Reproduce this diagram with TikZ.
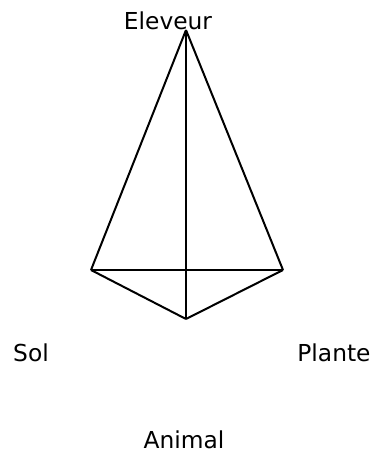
\documentclass[tikz,border=0pt]{standalone}
\usepackage{fontspec}
\setmainfont{DejaVu Sans}
\usetikzlibrary{positioning}
\tikzset{
    edge/.style={line width=1.5pt, draw=black},
    pole/.style={font=\fontsize{17.5}{20}\selectfont, inner sep=0pt}
}
\begin{document}
\begin{tikzpicture}[x=0.75pt, y=-0.75pt]
    \useasboundingbox (0,0) rectangle (374,454);
    % vertices of the pyramid
    \coordinate (top) at (186,30);
    \coordinate (left) at (91,270);
    \coordinate (right) at (283,270);
    \coordinate (front) at (186,319);

    % labels
    \node[pole] (eleveur) at (168,21) {Eleveur};
    \node[pole] (sol) at (31,353) {Sol};
    \node[pole] (plante) at (334,353) {Plante};
    \node[pole] (animal) at (184,440) {Animal};

    % edges
    \draw[edge] (top) -- (left);
    \draw[edge] (top) -- (right);
    \draw[edge] (top) -- (front);
    \draw[edge] (left) -- (right);
    \draw[edge] (left) -- (front);
    \draw[edge] (right) -- (front);
\end{tikzpicture}
\end{document}
